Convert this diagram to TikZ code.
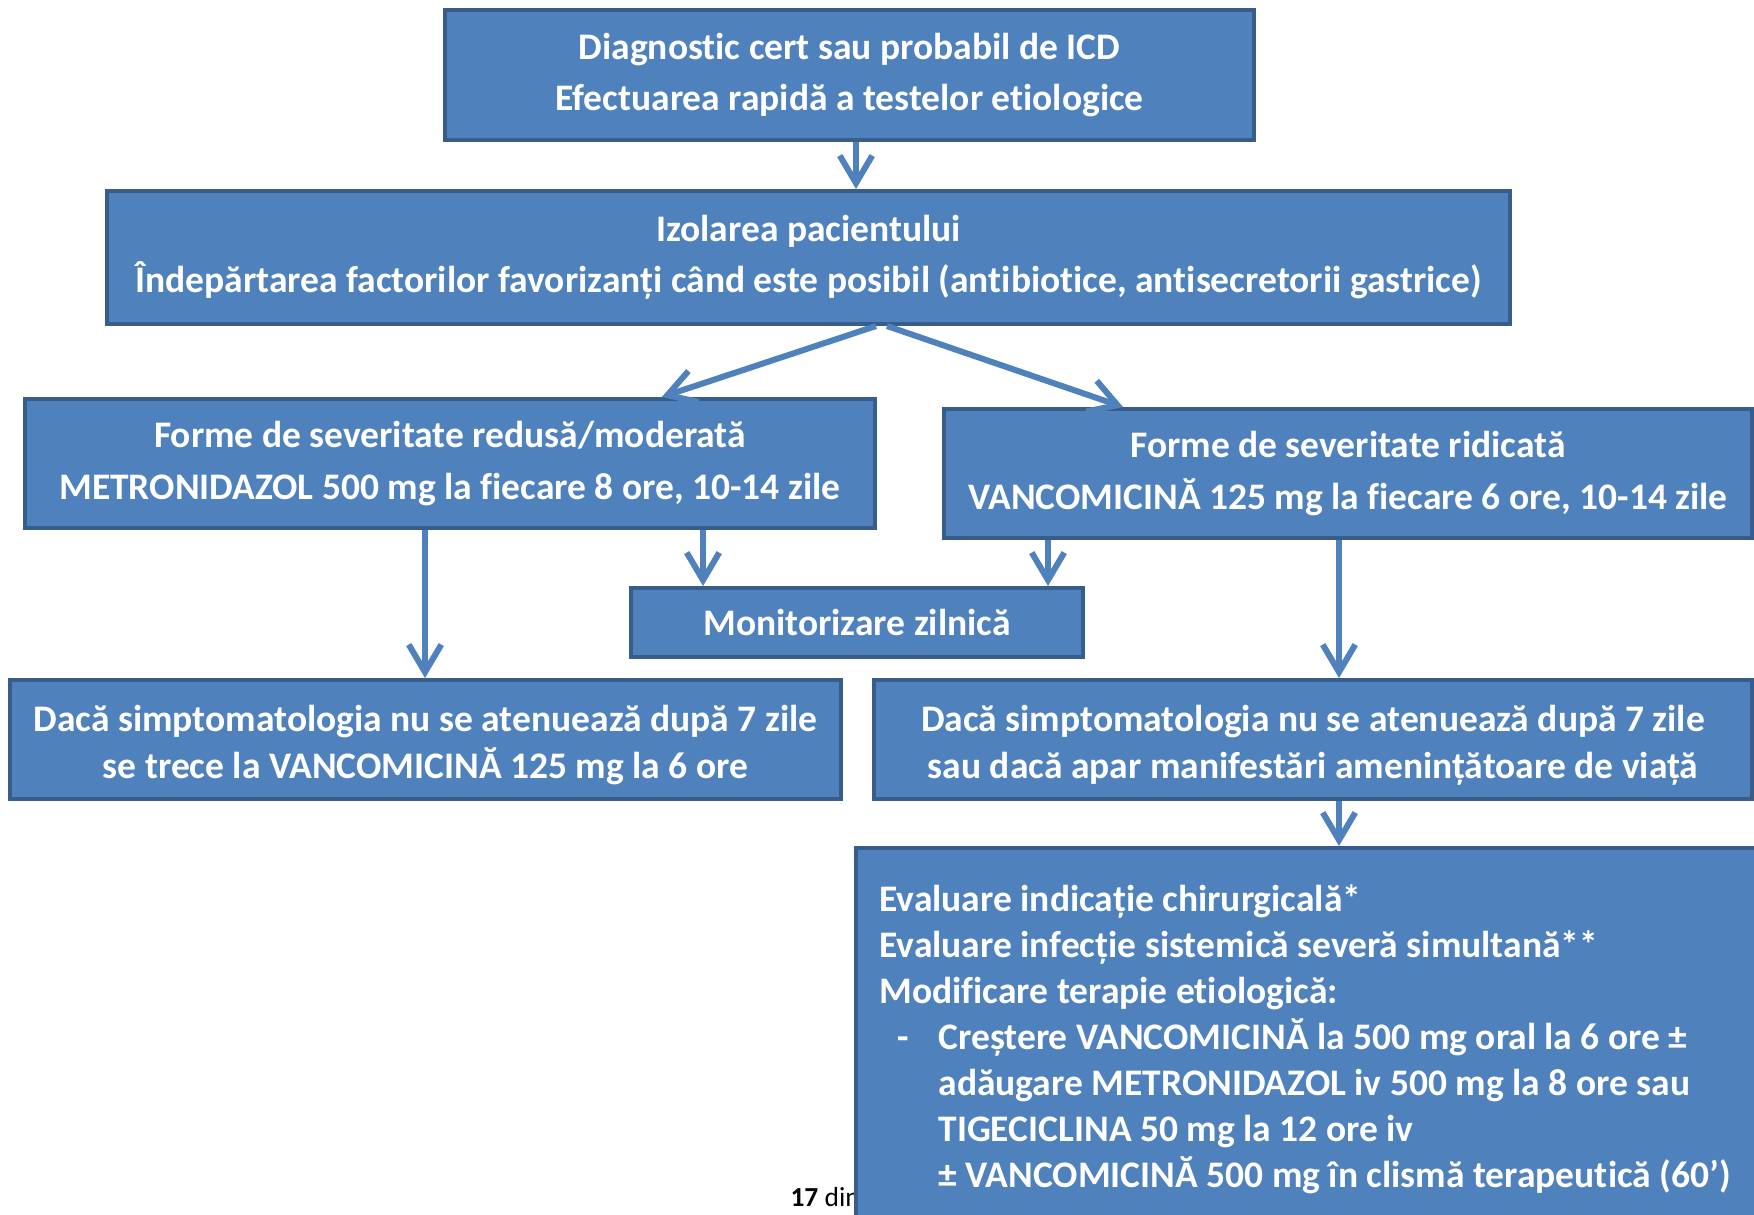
\documentclass[tikz,border=0pt]{standalone}
\usepackage{fontspec}
\setmainfont{Carlito}[Ligatures=NoCommon]
\usetikzlibrary{arrows.meta,calc}
\definecolor{boxfill}{HTML}{4F81BD}
\definecolor{boxline}{HTML}{385D8A}
\begin{document}
\begin{tikzpicture}[x=0.4pt,y=-0.4pt,
  box/.style={draw=boxline,fill=boxfill,line width=1.6pt,inner sep=0pt,text=white,
    font=\bfseries\fontsize{15}{20.6}\selectfont,align=center},
  boxb/.style={box,font=\bfseries\fontsize{15}{18.8}\selectfont},
  arr/.style={draw=boxfill,line width=2.4pt,-{Straight Barb[length=11pt,width=13pt]}}]
\useasboundingbox (0,0) rectangle (1754,1214);
\clip (0,0) rectangle (1754,1214);
\fill[white] (0,0) rectangle (1754,1214);

\node[box,minimum width=809*0.4pt,minimum height=130*0.4pt] (b1) at (849.5,75)
  {Diagnostic cert sau probabil de ICD\\Efectuarea rapidă a testelor etiologice};
\node[box,minimum width=1403*0.4pt,minimum height=133*0.4pt] (b2) at (808.5,257.5)
  {Izolarea pacientului\\Îndepărtarea factorilor favorizanți când este posibil (antibiotice, antisecretorii gastrice)};
\node[box,minimum width=850*0.4pt,minimum height=129*0.4pt] (b3) at (450,463.5)
  {Forme de severitate redusă/moderată\\METRONIDAZOL 500 mg la fiecare 8 ore, 10-14 zile};
\node[box,minimum width=808*0.4pt,minimum height=129*0.4pt] (b4) at (1348,473.5)
  {Forme de severitate ridicată\\VANCOMICINĂ 125 mg la fiecare 6 ore, 10-14 zile};
\node[box,minimum width=452*0.4pt,minimum height=69*0.4pt] (mon) at (857,622.5)
  {Monitorizare zilnică};
\node[boxb,minimum width=831*0.4pt,minimum height=119*0.4pt] (b6) at (425.5,739.5)
  {\rule{0pt}{15pt}Dacă simptomatologia nu se atenuează după 7 zile\\se trece la VANCOMICINĂ 125 mg la 6 ore};
\node[boxb,minimum width=878*0.4pt,minimum height=119*0.4pt] (b7) at (1313,739.5)
  {\rule{0pt}{15pt}Dacă simptomatologia nu se atenuează după 7 zile\\sau dacă apar manifestări amenințătoare de viață};

\node[anchor=base west,inner sep=0pt,font=\fontsize{11}{13}\selectfont] (pg) at (790,1206)
  {\textbf{17} din};

\node[box,minimum width=924*0.4pt,minimum height=392*0.4pt] (b8) at (1318,1044) {};
\node[anchor=base west,inner sep=0pt,text=white,align=left,
  font=\bfseries\fontsize{15}{18.4}\selectfont] (t8) at (879,1187)
  {Evaluare indicație chirurgicală*\\
   Evaluare infecție sistemică severă simultană**\\
   Modificare terapie etiologică:\\
   \hspace*{7.2pt}\makebox[16.4pt][l]{-}Creștere VANCOMICINĂ la 500 mg oral la 6 ore ±\\
   \hspace*{23.6pt}adăugare METRONIDAZOL iv 500 mg la 8 ore sau\\
   \hspace*{23.6pt}TIGECICLINA 50 mg la 12 ore iv\\
   \hspace*{23.6pt}± VANCOMICINĂ 500 mg în clismă terapeutică (60’)};

\coordinate (x1) at (856,0);
\coordinate (aL) at (876,0);
\coordinate (aR) at (887,0);
\coordinate (x3) at (425,0);
\coordinate (x4) at (703,0);
\coordinate (x5) at (1048,0);
\coordinate (x6) at (1339,0);

\draw[arr] (b1.south -| x1) -- (b2.north -| x1);
\draw[arr] (b2.south -| aL) -- ($(b3.north west)!0.748!(b3.north east)$);
\draw[arr] (b2.south -| aR) -- ($(b4.north west)!0.223!(b4.north east)$);
\draw[arr] (b3.south -| x3) -- (b6.north -| x3);
\draw[arr] (b3.south -| x4) -- (mon.north -| x4);
\draw[arr] (b4.south -| x5) -- (mon.north -| x5);
\draw[arr] (b4.south -| x6) -- (b7.north -| x6);
\draw[arr] (b7.south -| x6) -- (b8.north -| x6);
\end{tikzpicture}
\end{document}
